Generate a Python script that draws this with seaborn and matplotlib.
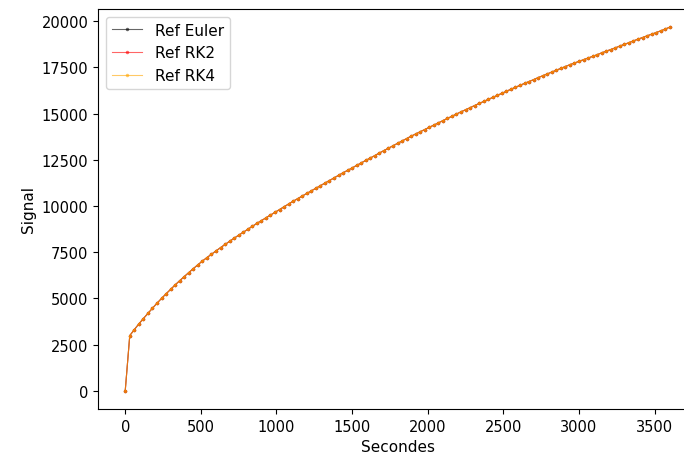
import matplotlib
matplotlib.use("Agg")
import matplotlib.pyplot as plt
import seaborn as sns
import pandas as pd

seconds = list(range(0, 3601, 30))

signal_euler = [
    0, 2990, 3310, 3620, 3910, 4190, 4470, 4740, 5000, 5250,
    5490, 5730, 5960, 6180, 6400, 6610, 6820, 7020, 7210, 7390,
    7570, 7750, 7920, 8090, 8260, 8420, 8580, 8740, 8900, 9060,
    9210, 9360, 9510, 9660, 9810, 9960, 10110, 10260, 10400, 10540,
    10680, 10820, 10960, 11100, 11240, 11380, 11520, 11660, 11800, 11930,
    12060, 12200, 12330, 12470, 12600, 12730, 12870, 13000, 13130, 13260,
    13390, 13520, 13650, 13780, 13900, 14020, 14140, 14260, 14380, 14500,
    14620, 14740, 14860, 14980, 15100, 15210, 15320, 15440, 15550, 15660,
    15770, 15880, 15990, 16100, 16210, 16320, 16430, 16530, 16640, 16740,
    16840, 16950, 17050, 17150, 17250, 17350, 17450, 17550, 17650, 17740,
    17830, 17920, 18010, 18100, 18190, 18290, 18380, 18470, 18560, 18660,
    18750, 18840, 18940, 19030, 19120, 19210, 19300, 19390, 19480, 19580,
    19680,
]
signal_rk2 = list(signal_euler)
signal_rk4 = list(signal_euler)

labels = ["Ref Euler", "Ref RK2", "Ref RK4"]
colors = ["black", "red", "orange"]

plt.rcParams["font.size"] = 11
plt.rcParams["xtick.labelsize"] = 10.5
plt.rcParams["ytick.labelsize"] = 10.5

fig = plt.figure(figsize=(6.84, 4.6), dpi=100)
ax = fig.add_axes([98 / 684, 50 / 460, 599 / 684, 400 / 460])

for vals, lab, col in zip([signal_euler, signal_rk2, signal_rk4], labels, colors):
    df = pd.DataFrame({"t": seconds, "v": vals})
    sns.lineplot(data=df, x="t", y="v", ax=ax, color=col, label=lab,
                 marker=".", markersize=5, linewidth=0.8, alpha=0.6,
                 markeredgewidth=0)

ax.set_xlabel("Secondes")
ax.set_ylabel("Signal")
ax.legend(loc="upper left")
fig.savefig("out.png", dpi=100)
